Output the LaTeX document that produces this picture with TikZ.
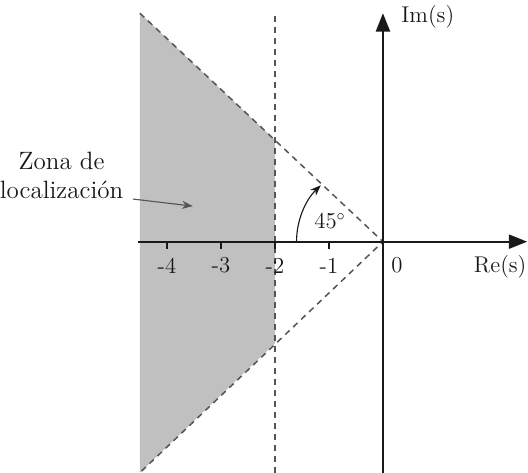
\documentclass[tikz,border=0pt]{standalone}
\usetikzlibrary{arrows.meta,positioning,calc}
\definecolor{zonegray}{RGB}{192,192,192}
\definecolor{guidegray}{RGB}{85,85,85}
\definecolor{axisblack}{RGB}{25,25,25}
\tikzset{
  axs/.style={-{Triangle[length=3.4mm,width=2.6mm]}, line width=1.1pt, axisblack},
  gdl/.style={dashed, guidegray, thick, dash pattern=on 3.2pt off 2.6pt},
  tck/.style={line width=0.9pt, axisblack},
  tlab/.style={font=\large, text=axisblack},
  alab/.style={font=\large, text=axisblack},
  zlab/.style={font=\fontsize{13.2}{15.5}\selectfont, align=center, text=axisblack},
  larr/.style={-{Stealth[length=2mm]}, guidegray, semithick},
  angarr/.style={-{Stealth[length=2mm]}, axisblack, semithick},
}
\begin{document}
\begin{tikzpicture}[x=1cm, y=0.94cm]
 \useasboundingbox (-7.09,-4.55) rectangle (2.685,4.76);
 \coordinate (O) at (0,0);
 \coordinate (zt) at (-4.5,4.5);
 \coordinate (zb) at (-4.5,-4.55);
 \coordinate (ct) at (-2,2);
 \coordinate (cb) at (-2,-2);
 \fill[zonegray] (zt) -- (ct) -- (cb) -- (zb) -- cycle;
 \draw[gdl] (zt) -- (O) -- (zb);
 \coordinate (vt) at (-2,4.45);
 \coordinate (vb) at (-2,-4.55);
 \draw[gdl] (vt) -- (vb);
 % axes
 \coordinate (rel) at (-4.54,0);
 \coordinate (rer) at (2.67,0);
 \coordinate (imb) at (0,-4.55);
 \coordinate (imt) at (0,4.5);
 \draw[axs] (rel) -- (rer);
 \draw[axs] (imb) -- (imt);
 \foreach \t in {-4,...,-1}{
   \draw[tck] (\t,0) -- (\t,-0.14);
   \node[tlab] (t\t) at (\t,-0.47) {\t};
 }
 \node[tlab] (t0) at (0.26,-0.47) {0};
 \node[alab] (re) at (2.17,-0.5) {Re(s)};
 \node[alab] (im) at (0.83,4.42) {Im(s)};
 % angle
 \draw[angarr] (-1.6,0) arc[start angle=180, end angle=136, radius=1.6];
 \node[tlab] (ang) at (-0.98,0.4) {$45^\circ$};
 % zone label
 \node[zlab] (zona) at (-5.95,1.3) {Zona de\\localización};
 \coordinate (za) at (-4.63,0.84);
 \coordinate (zp) at (-3.52,0.7);
 \draw[larr] (za) -- (zp);
\end{tikzpicture}
\end{document}
